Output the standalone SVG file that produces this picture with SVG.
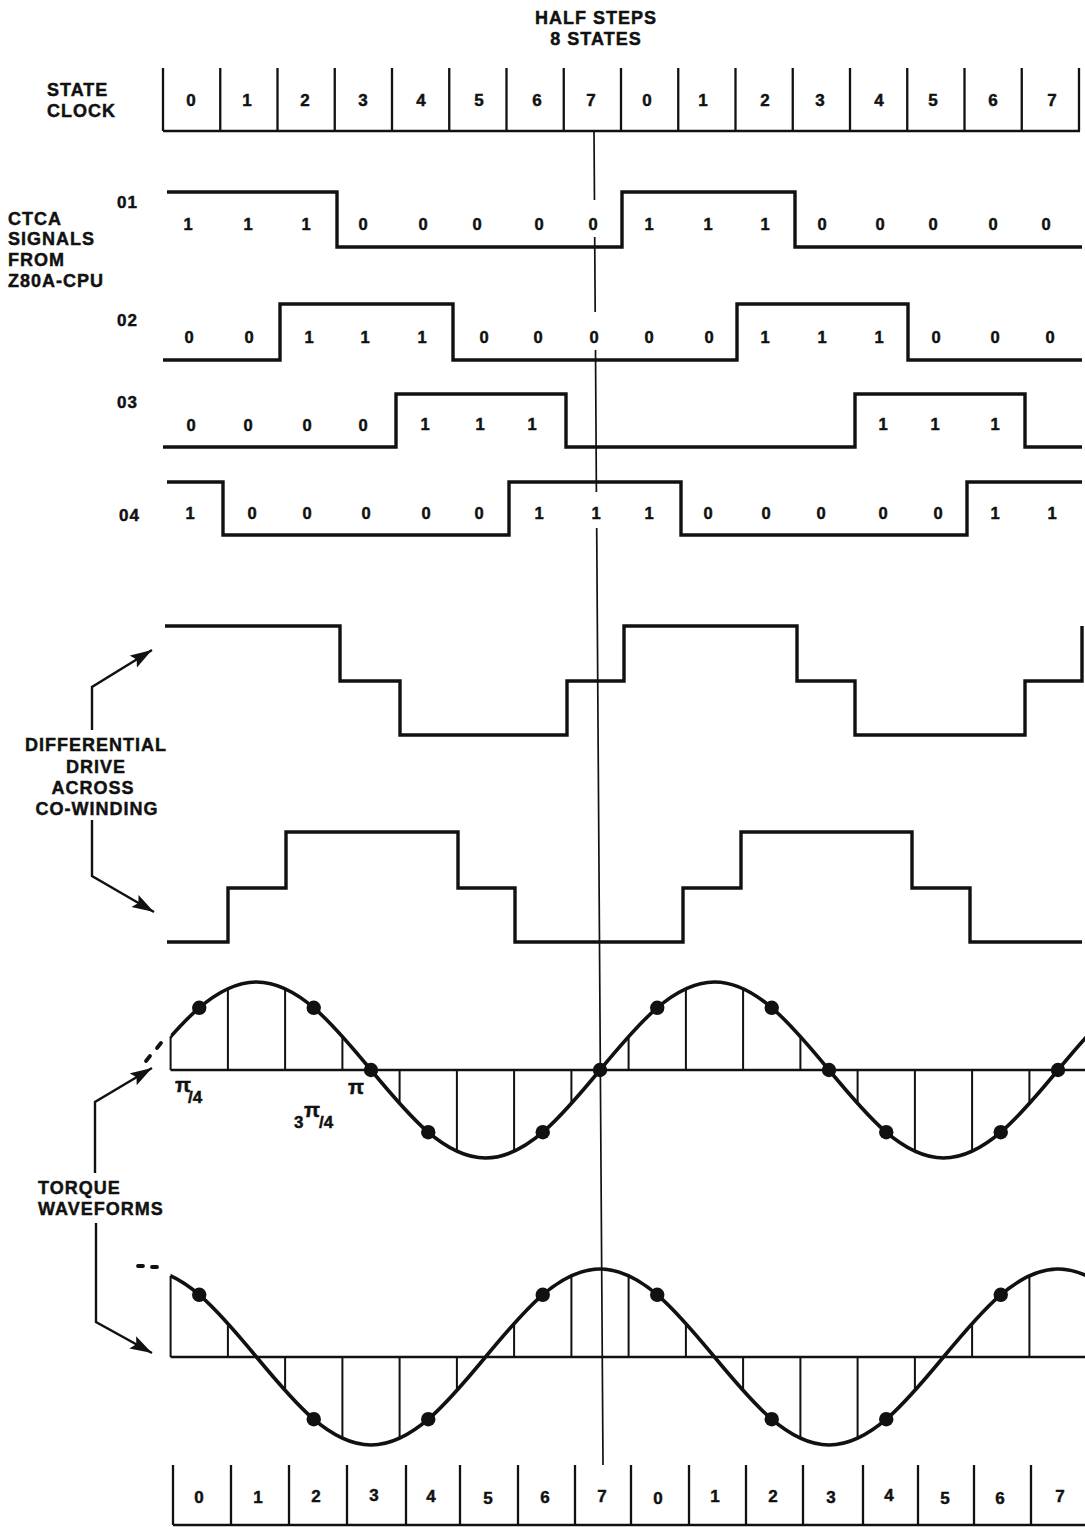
<svg xmlns="http://www.w3.org/2000/svg" width="1085" height="1527" viewBox="0 0 1085 1527">
<style>
text{font-family:"Liberation Sans",Arial,Helvetica,sans-serif;font-weight:bold;fill:#111;stroke:#111;stroke-width:0.45px;}
.lbl{font-size:18px;letter-spacing:1px;}
.dig{font-size:17px;text-anchor:middle;}
.sig{font-size:16.5px;text-anchor:middle;}
.box{fill:none;stroke:#111;stroke-width:2.3;}
.wave{fill:none;stroke:#111;stroke-width:3.4;stroke-linejoin:miter;}
.thin{fill:none;stroke:#111;stroke-width:2;}
.axis{fill:none;stroke:#111;stroke-width:2.6;}
.curve{fill:none;stroke:#111;stroke-width:3.6;}
.dot{fill:#111;}
.arr{fill:none;stroke:#111;stroke-width:2.4;}
.dash{stroke:#111;stroke-width:3.8;stroke-linecap:round;}
.pi{font-size:21px;}
.frac{font-size:17px;}
</style>
<defs>
<marker id="ah" markerUnits="userSpaceOnUse" markerWidth="24" markerHeight="16" refX="22" refY="7" orient="auto">
<path d="M0,0 L22,7 L0,14 L4,7 z" fill="#111"/>
</marker>
<clipPath id="clipT"><rect x="170.6" y="950" width="914.4" height="520"/></clipPath>
</defs>

<g id="title">
<text class="lbl" x="596" y="24" text-anchor="middle">HALF STEPS</text>
<text class="lbl" x="596" y="45" text-anchor="middle">8 STATES</text>
</g>

<g id="state-clock-label">
<text class="lbl" x="47" y="95.5">STATE</text>
<text class="lbl" x="47" y="116.5">CLOCK</text>
</g>

<g id="state-clock-top">
<path class="box" d="M163,131 H1080 M163,68 V131 M220.25,68 V131 M277.5,68 V131 M334.75,68 V131 M392,68 V131 M449.25,68 V131 M506.5,68 V131 M563.75,68 V131 M621,68 V131 M678.25,68 V131 M735.5,68 V131 M792.75,68 V131 M850,68 V131 M907.25,68 V131 M964.5,68 V131 M1021.75,68 V131 M1079,68 V131"/>
<text class="dig" x="191" y="106">0</text>
<text class="dig" x="247" y="106">1</text>
<text class="dig" x="305" y="106">2</text>
<text class="dig" x="363" y="106">3</text>
<text class="dig" x="421" y="106">4</text>
<text class="dig" x="479" y="106">5</text>
<text class="dig" x="537" y="106">6</text>
<text class="dig" x="591" y="106">7</text>
<text class="dig" x="647" y="106">0</text>
<text class="dig" x="703" y="106">1</text>
<text class="dig" x="765" y="106">2</text>
<text class="dig" x="820" y="106">3</text>
<text class="dig" x="879" y="106">4</text>
<text class="dig" x="933" y="106">5</text>
<text class="dig" x="993" y="106">6</text>
<text class="dig" x="1052" y="106">7</text>
</g>

<g id="ctca-label">
<text class="lbl" x="8" y="224.5">CTCA</text>
<text class="lbl" x="8" y="245">SIGNALS</text>
<text class="lbl" x="8" y="266">FROM</text>
<text class="lbl" x="8" y="286.5">Z80A-CPU</text>
</g>

<g id="signal-01">
<text class="lbl" x="117" y="208" style="font-size:17px">01</text>
<path class="wave" d="M167,192 H337 V247 H622 V192 H795 V247 H1082"/>
<text class="sig" x="188" y="230">1</text><text class="sig" x="248" y="230">1</text><text class="sig" x="306" y="230">1</text>
<text class="sig" x="363" y="230">0</text><text class="sig" x="423" y="230">0</text><text class="sig" x="477" y="230">0</text><text class="sig" x="539" y="230">0</text><text class="sig" x="593" y="230">0</text>
<text class="sig" x="649" y="230">1</text><text class="sig" x="708" y="230">1</text><text class="sig" x="765" y="230">1</text>
<text class="sig" x="822" y="230">0</text><text class="sig" x="880" y="230">0</text><text class="sig" x="933" y="230">0</text><text class="sig" x="993" y="230">0</text><text class="sig" x="1046" y="230">0</text>
</g>

<g id="signal-02">
<text class="lbl" x="117" y="326" style="font-size:17px">02</text>
<path class="wave" d="M163,360 H280 V304 H453 V360 H737 V304 H908 V360 H1082"/>
<text class="sig" x="189" y="343">0</text><text class="sig" x="249" y="343">0</text>
<text class="sig" x="309" y="343">1</text><text class="sig" x="365" y="343">1</text><text class="sig" x="422" y="343">1</text>
<text class="sig" x="484" y="343">0</text><text class="sig" x="538" y="343">0</text><text class="sig" x="594" y="343">0</text><text class="sig" x="649" y="343">0</text><text class="sig" x="709" y="343">0</text>
<text class="sig" x="765" y="343">1</text><text class="sig" x="822" y="343">1</text><text class="sig" x="879" y="343">1</text>
<text class="sig" x="936" y="343">0</text><text class="sig" x="995" y="343">0</text><text class="sig" x="1050" y="343">0</text>
</g>

<g id="signal-03">
<text class="lbl" x="117" y="408" style="font-size:17px">03</text>
<path class="wave" d="M163,447 H396 V394 H566 V447 H855 V394 H1025 V447 H1082"/>
<text class="sig" x="191" y="431">0</text><text class="sig" x="248" y="431">0</text><text class="sig" x="307" y="431">0</text><text class="sig" x="363" y="431">0</text>
<text class="sig" x="425" y="430">1</text><text class="sig" x="480" y="430">1</text><text class="sig" x="532" y="430">1</text>
<text class="sig" x="883" y="430">1</text><text class="sig" x="935" y="430">1</text><text class="sig" x="995" y="430">1</text>
</g>

<g id="signal-04">
<text class="lbl" x="119" y="521" style="font-size:17px">04</text>
<path class="wave" d="M167,482 H223 V535 H509 V482 H681 V535 H967 V482 H1082"/>
<text class="sig" x="190" y="519">1</text>
<text class="sig" x="252" y="519">0</text><text class="sig" x="307" y="519">0</text><text class="sig" x="366" y="519">0</text><text class="sig" x="426" y="519">0</text><text class="sig" x="479" y="519">0</text>
<text class="sig" x="539" y="519">1</text><text class="sig" x="596" y="519">1</text><text class="sig" x="649" y="519">1</text>
<text class="sig" x="708" y="519">0</text><text class="sig" x="766" y="519">0</text><text class="sig" x="821" y="519">0</text><text class="sig" x="883" y="519">0</text><text class="sig" x="938" y="519">0</text>
<text class="sig" x="995" y="519">1</text><text class="sig" x="1052" y="519">1</text>
</g>

<g id="differential-label">
<text class="lbl" x="96" y="750.5" text-anchor="middle">DIFFERENTIAL</text>
<text class="lbl" x="96" y="772.5" text-anchor="middle">DRIVE</text>
<text class="lbl" x="93" y="793.5" text-anchor="middle">ACROSS</text>
<text class="lbl" x="97" y="814.5" text-anchor="middle">CO-WINDING</text>
</g>

<g id="diff-drive-1">
<path class="wave" d="M165,626 H340 V681 H400 V735 H567 V681 H624 V626 H797 V681 H855 V735 H1025 V681 H1082 V626"/>
</g>

<g id="diff-drive-2">
<path class="wave" d="M167,942 H228 V888 H286 V832 H458 V888 H515 V942 H683 V888 H741 V832 H912 V888 H970 V942 H1082"/>
</g>

<g id="torque-label">
<text class="lbl" x="38" y="1193.5">TORQUE</text>
<text class="lbl" x="38" y="1214.5">WAVEFORMS</text>
</g>

<g id="torque-1">
<path class="axis" d="M170.6,1070 H1085"/>
<path class="thin" d="M170.6,1070V1036.3 M227.9,1070V988.7 M285.1,1070V988.7 M342.4,1070V1036.3 M399.6,1070V1103.7 M456.9,1070V1151.3 M514.1,1070V1151.3 M571.4,1070V1103.7 M628.6,1070V1036.3 M685.9,1070V988.7 M743.1,1070V988.7 M800.4,1070V1036.3 M857.6,1070V1103.7 M914.9,1070V1151.3 M972.1,1070V1151.3 M1029.4,1070V1103.7"/>
<path class="curve" clip-path="url(#clipT)" d="M142,1070 C179.34,1024.92 215.06,982 256.5,982 C297.94,982 333.66,1024.92 371,1070 C408.34,1115.08 444.06,1158 485.5,1158 C526.94,1158 562.66,1115.08 600,1070 C637.34,1024.92 673.06,982 714.5,982 C755.94,982 791.66,1024.92 829,1070 C866.34,1115.08 902.06,1158 943.5,1158 C984.94,1158 1020.66,1115.08 1058,1070 C1095.34,1024.92 1131.06,982 1172.5,982"/>
<line class="dash" x1="157" y1="1048" x2="161" y2="1043"/>
<line class="dash" x1="146" y1="1061" x2="150" y2="1056"/>
<g class="dot">
<circle cx="199.25" cy="1007.8" r="7.2"/><circle cx="313.75" cy="1007.8" r="7.2"/><circle cx="371" cy="1070" r="7.2"/><circle cx="428.25" cy="1132.2" r="7.2"/><circle cx="542.75" cy="1132.2" r="7.2"/><circle cx="600" cy="1070" r="7.2"/>
<circle cx="657.25" cy="1007.8" r="7.2"/><circle cx="771.75" cy="1007.8" r="7.2"/><circle cx="829" cy="1070" r="7.2"/><circle cx="886.25" cy="1132.2" r="7.2"/><circle cx="1000.75" cy="1132.2" r="7.2"/><circle cx="1058" cy="1070" r="7.2"/>
</g>
<text x="175" y="1092"><tspan class="pi">π</tspan><tspan class="frac" x="188" y="1103">/4</tspan></text>
<text x="294" y="1128"><tspan class="frac">3</tspan><tspan class="pi" x="304" y="1117">π</tspan><tspan class="frac" x="319" y="1128">/4</tspan></text>
<text x="348" y="1094" class="pi">π</text>
</g>

<g id="torque-2">
<path class="axis" d="M170.6,1357 H1085"/>
<path class="thin" d="M170.6,1357V1275.7 M227.9,1357V1323.3 M285.1,1357V1390.7 M342.4,1357V1438.3 M399.6,1357V1438.3 M456.9,1357V1390.7 M514.1,1357V1323.3 M571.4,1357V1275.7 M628.6,1357V1275.7 M685.9,1357V1323.3 M743.1,1357V1390.7 M800.4,1357V1438.3 M857.6,1357V1438.3 M914.9,1357V1390.7 M972.1,1357V1323.3 M1029.4,1357V1275.7"/>
<path class="curve" clip-path="url(#clipT)" d="M142,1269 C183.44,1269 219.16,1311.92 256.5,1357 C293.84,1402.08 329.56,1445 371,1445 C412.44,1445 448.16,1402.08 485.5,1357 C522.84,1311.92 558.56,1269 600,1269 C641.44,1269 677.16,1311.92 714.5,1357 C751.84,1402.08 787.56,1445 829,1445 C870.44,1445 906.16,1402.08 943.5,1357 C980.84,1311.92 1016.56,1269 1058,1269 C1099.44,1269 1135.16,1311.92 1172.5,1357"/>
<line class="dash" x1="138" y1="1266" x2="143" y2="1266"/>
<line class="dash" x1="152" y1="1267" x2="157" y2="1267"/>
<g class="dot">
<circle cx="199.25" cy="1294.8" r="7.2"/><circle cx="313.75" cy="1419.2" r="7.2"/><circle cx="428.25" cy="1419.2" r="7.2"/><circle cx="542.75" cy="1294.8" r="7.2"/>
<circle cx="657.25" cy="1294.8" r="7.2"/><circle cx="771.75" cy="1419.2" r="7.2"/><circle cx="886.25" cy="1419.2" r="7.2"/><circle cx="1000.75" cy="1294.8" r="7.2"/>
</g>
</g>

<g id="state-clock-bottom">
<path class="box" d="M173,1525 H1085 M173,1465 V1525 M231,1465 V1525 M289,1465 V1525 M347,1465 V1525 M406,1465 V1525 M460,1465 V1525 M518,1465 V1525 M575,1465 V1525 M631,1465 V1525 M689,1465 V1525 M746,1465 V1525 M803,1465 V1525 M863,1465 V1525 M918,1465 V1525 M974,1465 V1525 M1031,1465 V1525"/>
<text class="dig" x="199" y="1503">0</text>
<text class="dig" x="258" y="1503">1</text>
<text class="dig" x="316" y="1502">2</text>
<text class="dig" x="374" y="1501">3</text>
<text class="dig" x="431" y="1502">4</text>
<text class="dig" x="488" y="1504">5</text>
<text class="dig" x="545" y="1503">6</text>
<text class="dig" x="602" y="1502">7</text>
<text class="dig" x="658" y="1504">0</text>
<text class="dig" x="715" y="1502">1</text>
<text class="dig" x="773" y="1502">2</text>
<text class="dig" x="831" y="1503">3</text>
<text class="dig" x="889" y="1501">4</text>
<text class="dig" x="945" y="1504">5</text>
<text class="dig" x="1000" y="1504">6</text>
<text class="dig" x="1060" y="1502">7</text>
</g>

<g id="connectors">
<path class="thin" style="stroke-width:1.7" d="M594,131 L594.47,200 M594.7,237 L595.2,312 M595.5,350 L596.4,492 M596.7,528 L603,1465"/>
<path class="arr" marker-end="url(#ah)" d="M92,730 V687 L152,650"/>
<path class="arr" marker-end="url(#ah)" d="M92,820 V876 L154,912"/>
<path class="arr" marker-end="url(#ah)" d="M95,1173 V1102 L152,1068"/>
<path class="arr" marker-end="url(#ah)" d="M96,1223 V1322 L152,1353"/>
</g>
</svg>
